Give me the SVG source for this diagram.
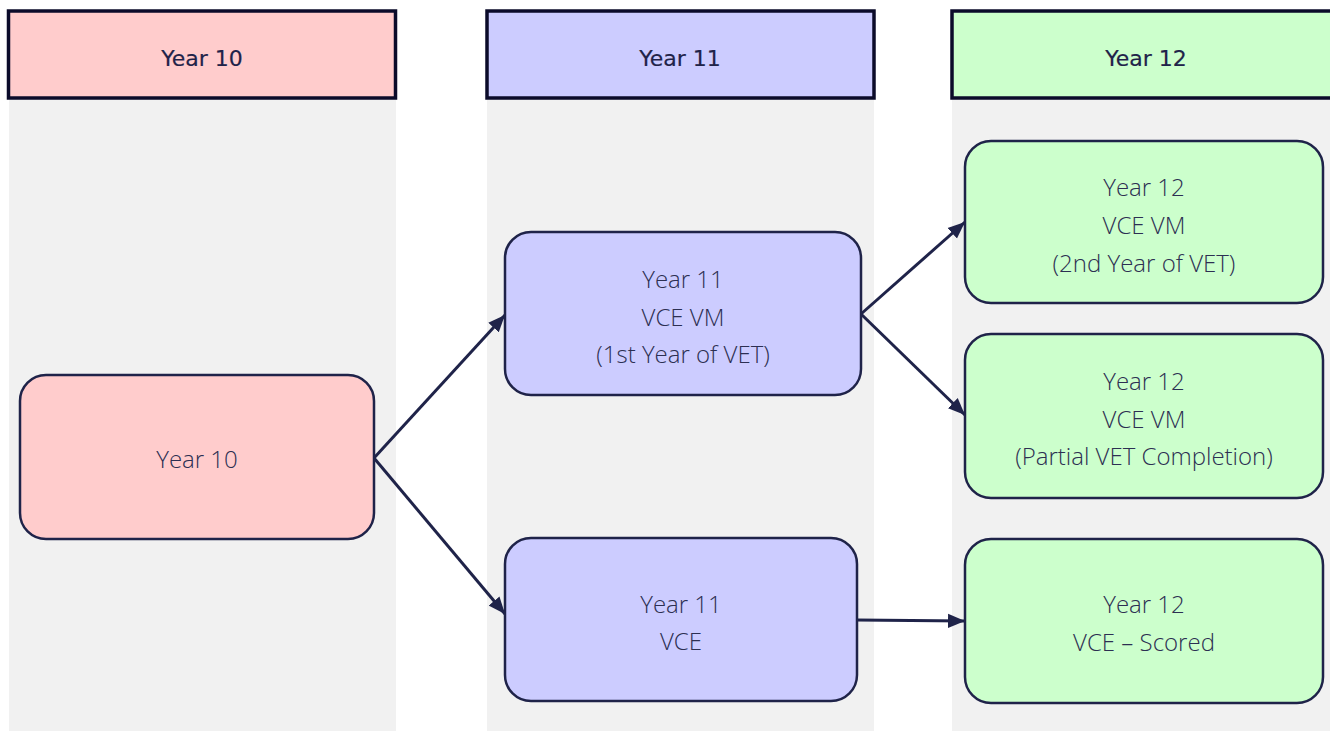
<svg xmlns="http://www.w3.org/2000/svg" width="1330" height="731" viewBox="0 0 1330 731">
  <defs>
    <marker id="arrowhead" viewBox="0 0 12 10" refX="12" refY="5" markerWidth="17" markerHeight="15" markerUnits="userSpaceOnUse" orient="auto">
      <path d="M0,0 L12,5 L0,10 z" fill="#1f2349"/>
    </marker>
  </defs>
  <style>
    .lane { fill: #f1f1f1; }
    .header { stroke: #0b0b2a; stroke-width: 3.5; }
    .htext { font-family: "DejaVu Sans", Verdana, sans-serif; font-size: 22px; fill: #1f2349; text-anchor: middle; stroke: #1f2349; stroke-width: 0.2; }
    .node { stroke: #1f2349; stroke-width: 2.5; }
    .ntext { font-family: "Open Sans", "Noto Sans", sans-serif; font-size: 24px; font-weight: 300; fill: #2c2f52; text-anchor: middle; }
    .edge { fill: none; stroke: #1f2349; stroke-width: 3; marker-end: url(#arrowhead); }
    .red { fill: #ffcccc; }
    .blue { fill: #ccccff; }
    .green { fill: #ccffcc; }
  </style>

  <rect width="1330" height="731" fill="#ffffff"/>

  <!-- swimlanes -->
  <g id="lane-year10">
    <rect class="lane" x="9" y="98" width="387" height="633"/>
    <rect class="header red" x="8.5" y="11" width="387" height="87"/>
    <text class="htext" x="202" y="66">Year 10</text>
  </g>
  <g id="lane-year11">
    <rect class="lane" x="487" y="98" width="387" height="633"/>
    <rect class="header blue" x="487" y="11" width="387" height="87"/>
    <text class="htext" x="680" y="66">Year 11</text>
  </g>
  <g id="lane-year12">
    <rect class="lane" x="952" y="98" width="378" height="633"/>
    <rect class="header green" x="952" y="11" width="390" height="87"/>
    <text class="htext" x="1146" y="66">Year 12</text>
  </g>

  <!-- connectors -->
  <g id="connectors">
    <path class="edge" d="M374,458 L505,315"/>
    <path class="edge" d="M374,458 L505,614"/>
    <path class="edge" d="M861,314 L965,222"/>
    <path class="edge" d="M861,314 L965,415"/>
    <path class="edge" d="M857,620 L965,621"/>
  </g>

  <!-- nodes -->
  <g id="node-y10">
    <rect class="node red" x="20" y="375" width="354" height="164" rx="26"/>
    <text class="ntext" x="197" y="468">Year 10</text>
  </g>
  <g id="node-y11-vm">
    <rect class="node blue" x="505" y="232" width="356" height="163" rx="26"/>
    <text class="ntext" x="683" y="288">Year 11</text>
    <text class="ntext" x="683" y="326">VCE VM</text>
    <text class="ntext" x="683" y="363">(1st Year of VET)</text>
  </g>
  <g id="node-y11-vce">
    <rect class="node blue" x="505" y="538" width="352" height="163" rx="26"/>
    <text class="ntext" x="681" y="613">Year 11</text>
    <text class="ntext" x="681" y="650">VCE</text>
  </g>
  <g id="node-y12-vm-vet2">
    <rect class="node green" x="965" y="141" width="358" height="162" rx="26"/>
    <text class="ntext" x="1144" y="196">Year 12</text>
    <text class="ntext" x="1144" y="234">VCE VM</text>
    <text class="ntext" x="1144" y="272">(2nd Year of VET)</text>
  </g>
  <g id="node-y12-vm-partial">
    <rect class="node green" x="965" y="334" width="358" height="164" rx="26"/>
    <text class="ntext" x="1144" y="390">Year 12</text>
    <text class="ntext" x="1144" y="428">VCE VM</text>
    <text class="ntext" x="1144" y="465">(Partial VET Completion)</text>
  </g>
  <g id="node-y12-vce">
    <rect class="node green" x="965" y="539" width="358" height="164" rx="26"/>
    <text class="ntext" x="1144" y="613">Year 12</text>
    <text class="ntext" x="1144" y="651">VCE – Scored</text>
  </g>
</svg>
